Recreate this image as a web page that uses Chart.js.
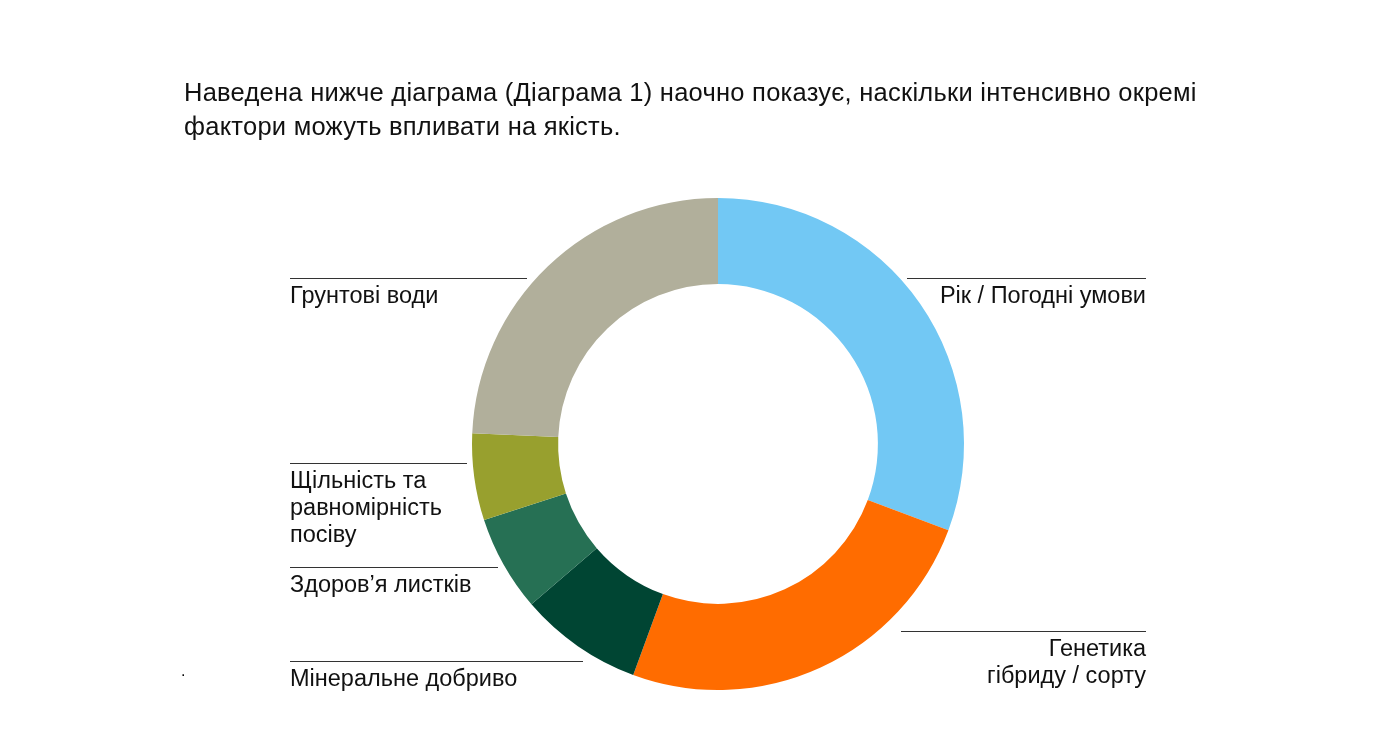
<!DOCTYPE html>
<html lang="uk">
<head>
<meta charset="utf-8">
<script src="https://cdn.jsdelivr.net/npm/chart.js@4/dist/chart.umd.min.js"></script>
<style>
  html, body { margin: 0; padding: 0; background: #fff; }
  #wrap { position: relative; width: 1388px; height: 749px; }
  #title {
    position: absolute; left: 184px; top: 76px; width: 1150px;
    font-family: "Liberation Sans", Arial, sans-serif; font-size: 25.5px; line-height: 33.5px;
    letter-spacing: 0.25px; color: #111;
  }
  #dot { position: absolute; left: 181px; top: 662px; font: 16px "Liberation Sans", sans-serif; color: #000; }
</style>
</head>
<body>
<div id="wrap">
  <canvas id="donut" width="1388" height="749"></canvas>
  <div id="title">Наведена нижче діаграма (Діаграма 1) наочно показує, наскільки інтенсивно окремі<br>фактори можуть впливати на якість.</div>
  <div id="dot">.</div>
</div>
<script>
// factors, clockwise from 12 o'clock
const factors = [
  ["Рік / Погодні умови"],
  ["Генетика", "гібриду / сорту"],
  ["Мінеральне добриво"],
  ["Здоров’я листків"],
  ["Щільність та", "равномірність", "посіву"],
  ["Грунтові води"]
];
const shares = [30.7, 24.9, 8.1, 6.3, 5.7, 24.3];
const sliceColors = ["#72C8F4", "#FF6C00", "#004533", "#267054", "#98A02E", "#B1AF9B"];

// where each label sits: side, line offset from centre (in px), inner end of the leader line
const labelLayout = [
  { side: "right", dy: -166, inner: 189 },
  { side: "right", dy: 187, inner: 183 },
  { side: "left", dy: 217, inner: 135 },
  { side: "left", dy: 123, inner: 220 },
  { side: "left", dy: 19, inner: 251 },
  { side: "left", dy: -166, inner: 191 }
];

const leaderLabels = {
  id: "leaderLabels",
  afterDraw(chart) {
    const ctx = chart.ctx;
    const arc = chart.getDatasetMeta(0).data[0];
    const cx = arc.x, cy = arc.y;
    const reach = 428;
    ctx.save();
    ctx.font = '23.5px "Liberation Sans", Arial, sans-serif';
    ctx.textBaseline = "alphabetic";
    factors.forEach((lines, i) => {
      const l = labelLayout[i];
      const y = Math.round(cy + l.dy) + 0.5;
      let x0, x1, tx;
      if (l.side === "left") { x0 = cx - reach; x1 = cx - l.inner; tx = x0; ctx.textAlign = "left"; }
      else { x0 = cx + l.inner; x1 = cx + reach; tx = x1; ctx.textAlign = "right"; }
      ctx.strokeStyle = "#333";
      ctx.lineWidth = 1;
      ctx.beginPath();
      ctx.moveTo(x0, y);
      ctx.lineTo(x1, y);
      ctx.stroke();
      ctx.fillStyle = "#111";
      lines.forEach((t, k) => ctx.fillText(t, tx, y + 24.5 + k * 27));
    });
    ctx.restore();
  }
};

new Chart("donut", {
  type: "doughnut",
  data: {
    labels: factors.map(f => f.join(" ")),
    datasets: [{
      data: shares,
      backgroundColor: sliceColors,
      borderWidth: 0
    }]
  },
  options: {
    responsive: false,
    animation: false,
    cutout: "65%",
    layout: { padding: { top: 198, bottom: 59, left: 472, right: 424 } },
    plugins: {
      legend: { display: false },
      tooltip: { enabled: false }
    }
  },
  plugins: [leaderLabels]
});
</script>
</body>
</html>
